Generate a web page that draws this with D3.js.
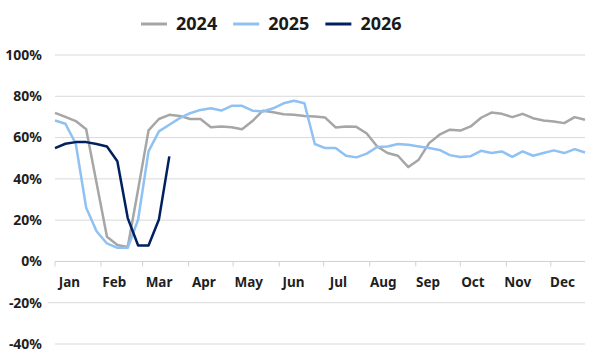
<!DOCTYPE html>
<html>
<head>
<meta charset="utf-8">
<script src="https://cdn.jsdelivr.net/npm/d3@7"></script>
<style>
  body { margin: 0; background: #fff; }
  svg { display: block; font-family: "Noto Sans", "Open Sans", sans-serif; }
</style>
</head>
<body>
<svg id="chart" width="600" height="361"></svg>
<script>
// weekly values (%), week 0 = first week of January
const series2024 = [72, 70, 68, 64, 38, 12, 8, 7, 35, 63.5, 69, 71, 70.5, 69, 69, 65, 65.4, 65, 64, 68,
    73, 72.3, 71.3, 71, 70.5, 70.2, 69.7, 64.9, 65.4, 65.2, 62, 55.7, 52.5, 51.2, 45.7, 49.3,
    57.3, 61.4, 63.8, 63.4, 65.4, 69.6, 72.1, 71.5, 69.9, 71.5, 69.4, 68.3, 67.8, 67, 69.9, 68.6];
const series2025 = [68.3, 66.7, 57, 26, 14.6, 8.7, 6.6, 6.6, 20.3, 53.3, 63, 66.2, 69.4, 71.8, 73.4, 74.2,
    73.1, 75.4, 75.4, 73, 72.6, 74.2, 76.6, 77.8, 76.6, 56.9, 54.9, 54.9, 51.2, 50.4, 52.2, 55.4,
    55.7, 56.9, 56.5, 55.7, 54.9, 54, 51.5, 50.6, 51, 53.6, 52.5, 53.3, 50.6, 53.3, 51.2, 52.5,
    53.8, 52.5, 54.4, 52.8];
const series2026 = [54.9, 57, 57.8, 57.8, 56.9, 55.7, 48.5, 21, 7.7, 7.7, 20.3, 50.9];

const months = ['Jan', 'Feb', 'Mar', 'Apr', 'May', 'Jun', 'Jul', 'Aug', 'Sep', 'Oct', 'Nov', 'Dec'];
const monthStartDays = [0, 31, 59, 90, 120, 151, 181, 212, 243, 273, 304, 334];
const yTicks = [-40, -20, 0, 20, 40, 60, 80, 100];

const seriesList = [
    { name: '2024', values: series2024, color: '#a6a6a6' },
    { name: '2025', values: series2025, color: '#8fc1f2' },
    { name: '2026', values: series2026, color: '#002060' }
];

const svg = d3.select('#chart');
const plot = { left: 55, right: 585, top: 55, bottom: 344 };

const x = d3.scaleLinear().domain([0, 51]).range([plot.left, plot.right]);
const y = d3.scaleLinear().domain([-40, 100]).range([plot.bottom, plot.top]);
const monthBand = d3.scaleBand().domain(months).range([plot.left - 8, plot.right]);

// gridlines
svg.append('g')
    .selectAll('line')
    .data(yTicks.filter(d => d !== 0))
    .enter()
    .append('line')
    .attr('x1', d => d === -20 ? plot.left - 7 : plot.left)
    .attr('x2', plot.right)
    .attr('y1', d => y(d))
    .attr('y2', d => y(d))
    .attr('stroke', '#d9d9d9')
    .attr('stroke-width', 1);

// y labels
svg.append('g')
    .selectAll('text')
    .data(yTicks)
    .enter()
    .append('text')
    .attr('x', 42)
    .attr('y', d => y(d))
    .attr('dy', '0.35em')
    .attr('text-anchor', 'end')
    .attr('font-size', 14)
    .attr('font-weight', 'bold')
    .attr('fill', '#1f1f1f')
    .text(d => d + '%');

// x axis at 0%
const xAxis = svg.append('g').attr('transform', `translate(0, ${y(0)})`);
xAxis.append('line')
    .attr('x1', plot.left)
    .attr('x2', plot.right)
    .attr('stroke', '#d0d0d0')
    .attr('stroke-width', 1);
xAxis.selectAll('.tick')
    .data(monthStartDays)
    .enter()
    .append('line')
    .classed('tick', true)
    .attr('x1', d => x(d / 7))
    .attr('x2', d => x(d / 7))
    .attr('y1', 0)
    .attr('y2', 5)
    .attr('stroke', '#d0d0d0');
xAxis.selectAll('.month')
    .data(months)
    .enter()
    .append('text')
    .classed('month', true)
    .attr('x', d => monthBand(d) + monthBand.bandwidth() / 2)
    .attr('y', 21)
    .attr('dy', '0.35em')
    .attr('text-anchor', 'middle')
    .attr('font-size', 13.5)
    .attr('font-weight', 'bold')
    .attr('fill', '#1f1f1f')
    .text(d => d);

// lines
const line = d3.line()
    .x((d, i) => x(i))
    .y(d => y(d));

svg.append('g')
    .selectAll('path')
    .data(seriesList)
    .enter()
    .append('path')
    .attr('d', d => line(d.values))
    .attr('fill', 'none')
    .attr('stroke', d => d.color)
    .attr('stroke-width', 2.5)
    .attr('stroke-linejoin', 'round');

// legend
const legend = svg.append('g').attr('transform', 'translate(141, 24)');
let offset = 0;
seriesList.forEach(s => {
    const item = legend.append('g').attr('transform', `translate(${offset}, 0)`);
    item.append('line')
        .attr('x1', 0)
        .attr('x2', 26)
        .attr('stroke', s.color)
        .attr('stroke-width', 3);
    const label = item.append('text')
        .attr('x', 35)
        .attr('dy', '0.35em')
        .attr('font-size', 18)
        .attr('font-weight', 'bold')
        .attr('fill', '#1a1a1a')
        .text(s.name);
    offset += 35 + label.node().getComputedTextLength() + 16;
});
</script>
</body>
</html>
